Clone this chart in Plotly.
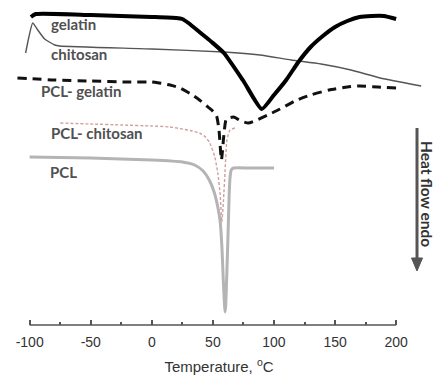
import plotly.graph_objects as go

# Temperatures (°C) and heat-flow readings (offset, plotted downward = endo)
gel_T = [-99, -95, -50, 0, 20, 25, 30, 40, 49, 59, 75, 90, 100, 110, 120, 130, 140, 150, 160, 170, 180, 190, 200]
gel_H = [17, 14, 15, 17, 18, 19, 23, 33, 42, 53, 81, 109, 95, 80, 62, 47, 36, 27, 21, 17, 16, 16, 19]

chi_T = [-103.3, -100.8, -97.5, -93.4, -87.7, -79.5, -75.4, 0, 59, 88.5, 114, 138.5, 163, 187, 220.5]
chi_H = [53, 38, 23, 30, 39, 45, 46, 49, 52, 55, 60, 64, 70, 78, 86]

pg_T = [-110, -80, -50, -20, 0, 6, 15, 23, 32, 39, 45, 49, 53, 55, 57, 59, 61, 67, 73, 79, 86, 95, 105, 117, 130, 145, 160, 170, 185, 200]
pg_H = [78, 80, 81, 82, 82, 83, 85, 88, 94, 100, 106, 110, 116, 130, 160, 135, 119, 117, 121, 123, 120, 115, 109, 101, 95, 90, 87, 86, 87, 88]

pc_T = [-75, -50, -25, 0, 15, 25, 33, 39, 44, 47.5, 51.6, 54, 56, 57.3, 58.7, 60, 61.5, 64, 68]
pc_H = [123, 124, 125, 126, 127, 129, 131, 133, 137, 143, 157, 173, 195, 222, 200, 170, 140, 130, 128]

pcl_T = [-100, -50, 0, 25, 35, 42, 47, 51, 54, 56, 57.5, 58.5, 59.5, 60, 60.5, 61.5, 62.5, 63.3, 64, 65, 67, 80, 100]
pcl_H = [157, 158, 160, 162, 165, 171, 180, 192, 207, 222, 250, 280, 305, 312, 305, 270, 230, 195, 178, 170, 168, 168, 168]

tick_vals = [-100, -50, 0, 50, 100, 150, 200]
tick_text = ["-100", "-50", "0", "50", "100", "150", "200"]
labels = ["gelatin", "chitosan", "PCL- gelatin", "PCL- chitosan", "PCL"]
label_T = [-84.5, -84.5, -92.5, -84.5, -85.3]
label_H = [24, 54, 91, 133, 172]

fig = go.Figure()
fig.add_trace(go.Scatter(x=pcl_T, y=pcl_H, mode="lines", line=dict(color="#b4b4b4", width=3, shape="spline", smoothing=0.5)))
fig.add_trace(go.Scatter(x=pc_T, y=pc_H, mode="lines", line=dict(color="#cfa0a0", width=1.4, dash="3px,2px", shape="spline", smoothing=0.5)))
fig.add_trace(go.Scatter(x=pg_T, y=pg_H, mode="lines", line=dict(color="#111111", width=3, dash="9px,6px", shape="spline", smoothing=0.5)))
fig.add_trace(go.Scatter(x=chi_T, y=chi_H, mode="lines", line=dict(color="#555555", width=1.4, shape="spline", smoothing=0.5)))
fig.add_trace(go.Scatter(x=gel_T, y=gel_H, mode="lines", line=dict(color="#000000", width=4, shape="spline", smoothing=0.5)))

for t, x, y in zip(labels, label_T, label_H):
    fig.add_annotation(x=x, y=y, xref="x", yref="y", text=t, showarrow=False, xanchor="left", yanchor="middle",
                       font=dict(family="Lato", size=15, color="#505050", weight="bold"))

fig.add_annotation(xref="paper", yref="paper", x=1.0368, y=0.403, text="Heat flow endo", textangle=90, showarrow=False,
                   font=dict(family="Lato", size=15.5, color="#333333", weight="bold"))

# downward arrow (shaft + head) in paper coordinates
fig.add_shape(type="line", xref="paper", yref="paper", x0=0.9853, x1=0.9853, y0=(325 - 128) / 325, y1=(325 - 262) / 325,
              line=dict(color="#555555", width=3))
fig.add_shape(type="path", xref="paper", yref="paper",
              path="M %f %f L %f %f L %f %f Z" % ((417 - 5.5 - 15) / 408, (325 - 258) / 325,
                                                  (417 + 5.5 - 15) / 408, (325 - 258) / 325,
                                                  (417 - 15) / 408, (325 - 271) / 325),
              fillcolor="#555555", line=dict(color="#555555", width=1))

fig.add_shape(type="line", xref="x", yref="paper", x0=-100, x1=200, y0=0, y1=0, line=dict(color="#555555", width=1.5))

fig.update_layout(
    width=448, height=379, margin=dict(l=15, r=25, t=0, b=54),
    paper_bgcolor="white", plot_bgcolor="white", showlegend=False,
    xaxis=dict(range=[-112, 222], showgrid=False, zeroline=False, showline=False,
               tickvals=tick_vals, ticktext=tick_text, ticks="inside", ticklen=5, tickwidth=1.5, tickcolor="#555555",
               ticklabelstandoff=7,
               minor=dict(ticks="inside", dtick=25, ticklen=3, tickwidth=1.5, tickcolor="#555555", showgrid=False),
               tickfont=dict(family="Liberation Sans", size=14, color="#333333"),
               title=dict(text="Temperature, <sup>o</sup>C", font=dict(family="Liberation Sans", size=15, color="#333333"), standoff=12)),
    yaxis=dict(range=[325, 0], visible=False, showgrid=False),
)
fig.write_html("out.html")
